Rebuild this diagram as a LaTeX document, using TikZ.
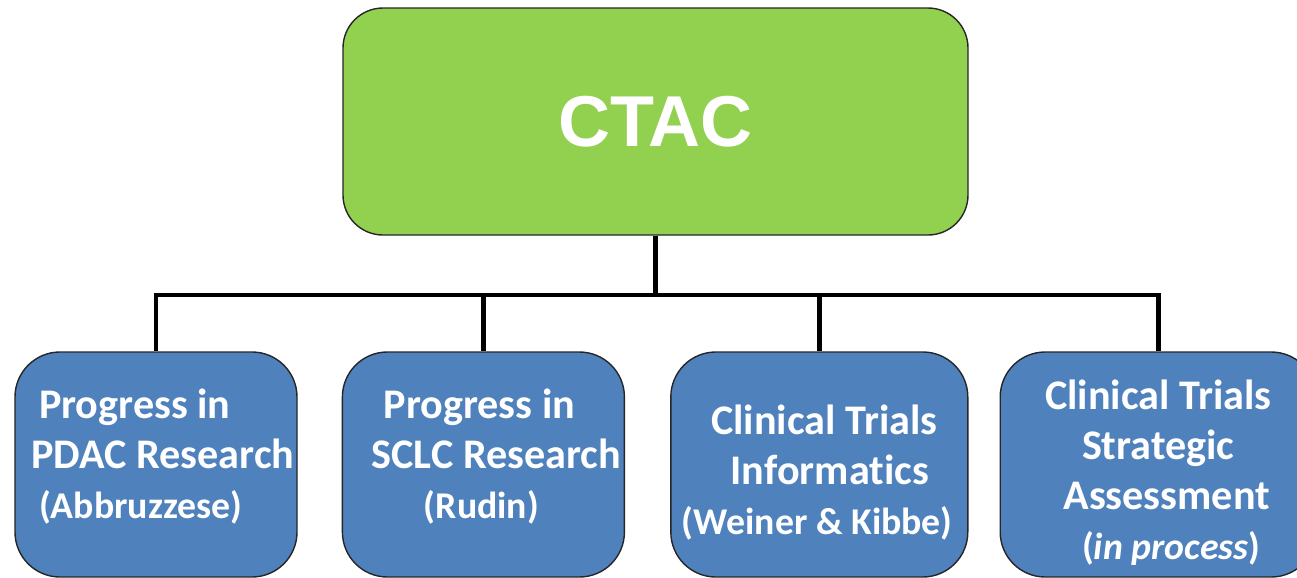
\documentclass[tikz,border=0pt]{standalone}
\usepackage{fontspec}
\setmainfont{Carlito}[Ligatures=NoCommon]
\newfontfamily\headfont{Liberation Sans}
\usetikzlibrary{positioning}
\definecolor{ctacgreen}{HTML}{92D050}
\definecolor{ctacblue}{HTML}{4F81BD}
\newcommand{\lead}[1]{{\fontsize{21.5}{28.5}\selectfont #1}}
\begin{document}
\begin{tikzpicture}
    % Define Styles
        \tikzstyle{root} = [
            rectangle,
            draw = black!85,
            line width = 0.8pt,
            rounded corners = 0.8cm,
            fill = ctacgreen,
            minimum width = 12.5cm,
            minimum height = 4.54cm,
            text = white,
            font = \headfont\bfseries\fontsize{41}{48}\selectfont
        ]
        \tikzstyle{branch} = [
            rectangle,
            draw = black!85,
            line width = 0.8pt,
            rounded corners = 0.9cm,
            fill = ctacblue,
            minimum width = 5.64cm,
            minimum height = 4.5cm,
            inner sep = 0pt
        ]
        \tikzstyle{caption} = [
            text = white,
            align = center,
            inner sep = 0pt,
            font = \bfseries\fontsize{24}{28.5}\selectfont
        ]
        \tikzstyle{link} = [
            draw,
            line width = 2.8pt
        ]
    \useasboundingbox (0,0) rectangle (25.94,-11.54);
    % Place nodes
        \node [root] (ctac) at (13.11,-2.43) {CTAC};
        \node [branch] (pdac) at (3.12,-9.29) {};
        \node [branch, right = 0.88cm of pdac] (sclc) {};
        \node [branch, minimum width = 5.94cm, right = 0.9cm of sclc] (ctinf) {};
        \node [branch, minimum width = 6.32cm, right = 0.62cm of ctinf] (ctsa) {};
    % Place texts
        \node [caption, align = left, xshift = 0.14cm, yshift = 0.16cm] (pdac text) at (pdac) {%
            \hspace{0.15cm}Progress in \\
            PDAC Research \\
            \hspace{0.15cm}\lead{(Abbruzzese)}
        };
        \node [caption, xshift = 0.26cm, yshift = 0.16cm] (sclc text) at (sclc) {%
            Progress in\hspace{0.68cm} \\
            SCLC Research \\
            \lead{(Rudin)}\hspace{0.6cm}
        };
        \node [caption, xshift = 0.1cm, yshift = -0.16cm] (ctinf text) at (ctinf) {%
            Clinical Trials \\
            \hspace{0.22cm}Informatics \\
            \lead{(Weiner \& Kibbe)}\hspace{0.28cm}
        };
        \node [caption, yshift = -0.16cm] (ctsa text) at (ctsa) {%
            Clinical Trials \\
            Strategic \\
            \hspace{0.34cm}Assessment \\
            \hspace{0.52cm}\lead{(\textit{in process})}
        };
        \coordinate (bus) at (0,-5.9);
    % Draw edges
        \path [link] (ctac.south) -- (ctac.south |- bus) -| (pdac.north);
        \path [link] (ctac.south) -- (ctac.south |- bus) -| (sclc.north);
        \path [link] (ctac.south) -- (ctac.south |- bus) -| (ctinf.north);
        \path [link] (ctac.south) -- (ctac.south |- bus) -| (ctsa.north);
    \end{tikzpicture}
\end{document}
